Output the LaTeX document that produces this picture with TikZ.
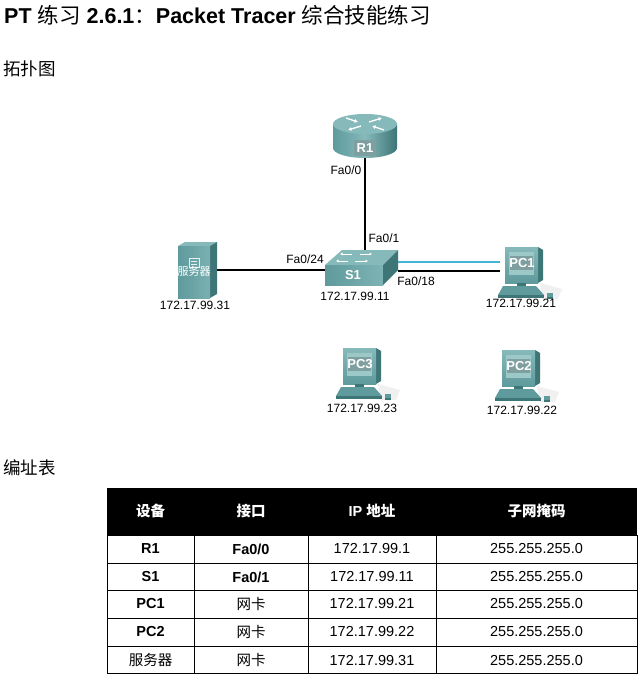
\documentclass[tikz,border=0pt]{standalone}
\usepackage{fontspec}
\setmainfont{Liberation Sans}
\newfontfamily\cjk{Noto Sans CJK SC}
\usetikzlibrary{arrows.meta}
\definecolor{tealtop}{HTML}{86B9BA}
\definecolor{tealmid}{HTML}{5F9A9C}
\definecolor{tealdark}{HTML}{3E7577}
\definecolor{tealscreen}{HTML}{9CC8C8}
\definecolor{linkcyan}{HTML}{45B4D6}
\definecolor{plate}{HTML}{7E9E9F}
\tikzset{
  link/.style={line width=1.8pt, black},
  cyanlink/.style={line width=1.8pt, linkcyan},
  lbl/.style={font=\fontsize{12}{14}\selectfont, inner sep=0pt},
  devlbl/.style={font=\fontsize{13}{15}\selectfont\bfseries, text=white, inner sep=1pt},
  hdr/.style={font=\fontsize{14.5}{16}\selectfont\bfseries, text=white, inner sep=0pt},
  cell/.style={font=\fontsize{14.5}{16}\selectfont, inner sep=0pt},
  cellb/.style={font=\fontsize{14.5}{16}\selectfont\bfseries, inner sep=0pt},
  pcicon/.pic={
    \fill[gray!12] (18,20) -- (40,26) -- (36,36) -- (20,36) -- cycle;
    \fill[tealdark] (16,-16) -- (21,-13) -- (21,17) -- (16,20) -- cycle;
    \shade[top color=tealtop, bottom color=tealmid] (-17,-16) rectangle (16,20);
    \fill[tealscreen] (-13,-11) rectangle (12,12);
    \fill[plate] (-12,-7) rectangle (11,7);
    \fill[tealdark] (-5,20) rectangle (4,23);
    \fill[tealmid] (-19,23) -- (14,23) -- (22,32) -- (-24,32) -- cycle;
    \fill[tealdark] (-24,32) rectangle (22,35);
    \fill[tealmid] (25,30) rectangle (31,34);
    \fill[tealdark] (25,34) rectangle (31,35.5);
  }
}
\begin{document}
\begin{tikzpicture}[x=1pt,y=-1pt]
\useasboundingbox (0,0) rectangle (641,679);
\fill[white] (0,0) rectangle (641,679);

% headings
\node[anchor=base west, inner sep=0pt, font=\fontsize{21.5}{23}\selectfont\bfseries] (title) at (4,23.5)
  {PT {\cjk\mdseries 练习} 2.6.1{\cjk\mdseries ：}Packet Tracer {\cjk\mdseries 综合技能练习}};
\node[anchor=base west, inner sep=0pt, font=\fontsize{17.5}{20}\selectfont\cjk] (topo) at (3,75.5) {拓扑图};
\node[anchor=base west, inner sep=0pt, font=\fontsize{17.5}{20}\selectfont\cjk] (addr) at (3,474.5) {编址表};

% device areas (invisible nodes used for connectors)
\node[minimum width=64pt, minimum height=44pt, inner sep=0pt] (r1) at (365,136) {};
\node[minimum width=73pt, minimum height=35pt, inner sep=0pt] (s1) at (361.5,267.5) {};
\node[minimum width=39pt, minimum height=56pt, inner sep=0pt] (srv) at (197.5,270) {};
\node[minimum width=52pt, minimum height=51pt, inner sep=0pt] (pc1) at (526,271) {};

% connectors
\draw[link] (r1.south) -- (r1.south |- s1.north);
\draw[link] (srv.east) -- (srv.east -| s1.west);
\draw[cyanlink] ([yshift=9pt]s1.east |- pc1.west) -- ([yshift=9pt]pc1.west);
\draw[link] (s1.east |- pc1.west) -- (pc1.west);

% router R1
\shade[left color=tealmid, right color=tealdark, middle color=tealtop]
  (333,124) -- (333,148) arc[start angle=180, end angle=360, x radius=32pt, y radius=10pt] -- (397,124) -- cycle;
\fill[tealtop] (365,124) ellipse[x radius=32pt, y radius=10pt];
\begin{scope}[white, line width=1.3pt, -{Latex[length=3.5pt,width=4pt]}]
  \draw (346,118) -- (358,122);
  \draw (384,130) -- (372,126);
  \draw (369,122) -- (382,118);
  \draw (361,126) -- (348,130);
\end{scope}
\fill[plate] (354,140) rectangle (376,156);
\node[devlbl] (r1lbl) at (365,148) {R1};

% switch S1
\fill[tealtop] (342,250) -- (398,250) -- (383,265) -- (325,265) -- cycle;
\shade[left color=tealmid, right color=tealtop!80!tealmid] (325,265) rectangle (383,285);
\fill[tealdark] (383,265) -- (398,250) -- (398,270) -- (383,285) -- cycle;
\begin{scope}[white, line width=1pt, -{Latex[length=2.5pt,width=3pt]}]
  \draw (352,254) -- (340,254);
  \draw (360,254) -- (372,254);
  \draw (348,261) -- (336,261);
  \draw (355,261) -- (368,261);
\end{scope}
\node[devlbl] (s1lbl) at (353,275) {S1};

% server
\fill[tealtop] (178,246) -- (185,242) -- (217,242) -- (210,246) -- cycle;
\fill[tealdark] (210,246) -- (217,242) -- (217,294) -- (210,298) -- cycle;
\shade[left color=tealmid, right color=tealtop!70!tealmid] (178,246) rectangle (210,298);
\draw[white!85!tealmid, line width=0.6pt] (189,258) rectangle (199,267);
\draw[white!85!tealmid, line width=0.5pt] (191,261) -- (197,261) (191,264) -- (197,264);
\node[inner sep=0pt, font=\fontsize{11}{12}\selectfont\cjk, text=white] (srvlbl) at (194,271.5) {服务器};

% PCs
\pic at (522,263) {pcicon};
\node[devlbl] (pc1lbl) at (522,263) {PC1};
\pic at (360,364) {pcicon};
\node[devlbl] (pc3lbl) at (360,364) {PC3};
\pic at (519,366) {pcicon};
\node[devlbl] (pc2lbl) at (519,366) {PC2};

% labels
\node[lbl] (l1) at (346,170) {Fa0/0};
\node[lbl] (l2) at (384,238) {Fa0/1};
\node[lbl] (l3) at (305,259) {Fa0/24};
\node[lbl] (l4) at (416,281) {Fa0/18};
\node[lbl] (ip31) at (195,305) {172.17.99.31};
\node[lbl] (ip11) at (355,296) {172.17.99.11};
\node[lbl] (ip21) at (521,303) {172.17.99.21};
\node[lbl] (ip23) at (362,408) {172.17.99.23};
\node[lbl] (ip22) at (522,410) {172.17.99.22};

% table
\fill[black] (107,488) rectangle (637,535);
\draw[line width=0.8pt] (107,535) rectangle (637,673);
\foreach \yy in {563,590,618,646} \draw[line width=0.8pt] (107,\yy) -- (637,\yy);
\foreach \xx in {194,308,436} \draw[line width=0.8pt] (\xx,535) -- (\xx,673);

\node[hdr] (h1) at (150.5,511) {\cjk\bfseries 设备};
\node[hdr] (h2) at (251,511) {\cjk\bfseries 接口};
\node[hdr] (h3) at (372,511) {IP {\cjk\bfseries 地址}};
\node[hdr] (h4) at (536.5,511) {\cjk\bfseries 子网掩码};

\node[cellb] (a1) at (150.5,549) {R1};
\node[cellb] (b1) at (251,549) {Fa0/0};
\node[cell] (c1) at (372,549) {172.17.99.1};
\node[cell] (d1) at (536.5,549) {255.255.255.0};

\node[cellb] (a2) at (150.5,577) {S1};
\node[cellb] (b2) at (251,577) {Fa0/1};
\node[cell] (c2) at (372,577) {172.17.99.11};
\node[cell] (d2) at (536.5,577) {255.255.255.0};

\node[cellb] (a3) at (150.5,604) {PC1};
\node[cell] (b3) at (251,604) {\cjk 网卡};
\node[cell] (c3) at (372,604) {172.17.99.21};
\node[cell] (d3) at (536.5,604) {255.255.255.0};

\node[cellb] (a4) at (150.5,632) {PC2};
\node[cell] (b4) at (251,632) {\cjk 网卡};
\node[cell] (c4) at (372,632) {172.17.99.22};
\node[cell] (d4) at (536.5,632) {255.255.255.0};

\node[cell] (a5) at (150.5,660) {\cjk 服务器};
\node[cell] (b5) at (251,660) {\cjk 网卡};
\node[cell] (c5) at (372,660) {172.17.99.31};
\node[cell] (d5) at (536.5,660) {255.255.255.0};
\end{tikzpicture}
\end{document}
